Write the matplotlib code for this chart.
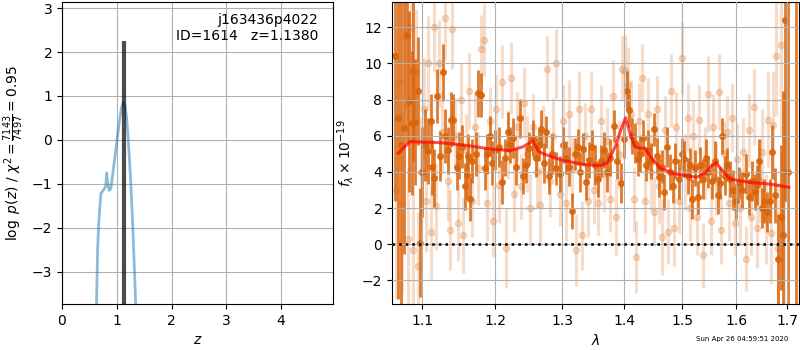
import numpy as np
import matplotlib
matplotlib.use('Agg')
from matplotlib import pyplot as plt
from matplotlib.ticker import NullLocator

# redshift probability
pz_z = [0.63, 0.65, 0.67, 0.71, 0.77, 0.80, 0.815, 0.83, 0.86, 0.89, 0.93, 1.00, 1.05, 1.09, 1.12, 1.15, 1.18, 1.21, 1.25, 1.29, 1.32, 1.345]
pz_logp = [-3.74, -2.5, -1.9, -1.22, -1.12, -1.05, -0.75, -0.95, -1.15, -1.12, -0.75, -0.05, 0.45, 0.75, 0.86, 0.78, 0.5, 0.0, -0.85, -1.9, -2.9, -3.74]
z_best = 1.138
p_peak = 2.25

# model spectrum
mod_wave = [1.069, 1.084, 1.124, 1.156, 1.193, 1.222, 1.241, 1.255, 1.264, 1.282, 1.302, 1.333, 1.361, 1.372,
            1.385, 1.394, 1.402, 1.410, 1.418, 1.427, 1.435, 1.444, 1.461, 1.485, 1.515, 1.527, 1.542, 1.554,
            1.562, 1.573, 1.589, 1.627, 1.667, 1.704]
mod_flux = [5.03, 5.68, 5.62, 5.49, 5.27, 5.18, 5.4, 5.71, 5.12, 4.86, 4.63, 4.42, 4.35, 4.51,
            5.4, 6.3, 7.0, 6.1, 5.4, 5.3, 5.33, 4.86, 4.22, 3.91, 3.76, 3.71, 3.95, 4.35,
            4.51, 4.11, 3.61, 3.42, 3.33, 3.15]

# good pixels
w1 = [1.065, 1.069, 1.073, 1.076, 1.080, 1.083, 1.086, 1.088, 1.091, 1.094, 1.097, 1.100, 1.104, 1.108,
      1.111, 1.113, 1.116, 1.119, 1.123, 1.127, 1.130, 1.134, 1.138, 1.141, 1.146, 1.149, 1.153, 1.157,
      1.160, 1.162, 1.164, 1.168, 1.173, 1.176, 1.180, 1.185, 1.188, 1.192, 1.196, 1.200, 1.206, 1.210,
      1.214, 1.218, 1.222, 1.226, 1.230, 1.236, 1.240, 1.245, 1.250, 1.255, 1.260, 1.264, 1.268, 1.272,
      1.275, 1.279, 1.284, 1.290, 1.296, 1.302, 1.306, 1.310, 1.315, 1.320, 1.324, 1.328, 1.332, 1.337,
      1.343, 1.347, 1.352, 1.357, 1.362, 1.367, 1.372, 1.377, 1.383, 1.388, 1.394, 1.399, 1.404, 1.408,
      1.413, 1.418, 1.423, 1.427, 1.431, 1.436, 1.440, 1.445, 1.450, 1.455, 1.460, 1.464, 1.468, 1.473,
      1.478, 1.483, 1.488, 1.494, 1.499, 1.504, 1.510, 1.514, 1.518, 1.523, 1.528, 1.533, 1.538, 1.543,
      1.548, 1.555, 1.560, 1.565, 1.570, 1.573, 1.578, 1.583, 1.588, 1.594, 1.600, 1.606, 1.612, 1.618,
      1.624, 1.630, 1.636, 1.640, 1.645, 1.650, 1.655, 1.660, 1.665, 1.670, 1.675, 1.682, 1.687, 1.692,
      1.696, 1.702, 1.718]
f1 = [10.4, 7.0, 5.5, 6.45, 11.6, 7.9, 6.7, 9.6, 6.76, 8.48, 0.1, 4.0, 5.5, 5.16,
      6.8, 4.25, 3.65, 8.2, 4.88, 9.5, 6.0, 5.2, 6.9, 6.9, 4.28, 4.9, 5.4, 3.2,
      3.83, 4.9, 2.5, 4.6, 4.99, 8.35, 8.25, 4.2, 5.0, 6.0, 4.5, 5.2, 5.4, 3.45,
      4.8, 6.2, 5.5, 5.9, 4.3, 6.96, 3.8, 4.4, 5.3, 5.88, 4.8, 5.5, 6.4, 4.5,
      6.2, 3.8, 5.0, 4.2, 3.9, 5.5, 4.8, 4.3, 1.84, 5.0, 5.4, 4.0, 5.27, 3.45,
      4.65, 5.4, 4.4, 3.6, 4.6, 5.2, 4.0, 4.8, 6.55, 4.6, 3.4, 5.8, 8.5, 7.4,
      6.0, 5.6, 4.7, 5.0, 5.9, 4.4, 5.2, 4.6, 6.36, 4.9, 3.7, 4.3, 2.9, 5.4,
      4.0, 3.2, 4.6, 3.6, 5.0, 4.7, 3.8, 4.4, 2.5, 4.2, 2.6, 4.4, 3.6, 4.8,
      4.0, 3.5, 4.6, 2.7, 3.4, 6.0, 3.8, 4.4, 3.6, 3.0, 2.4, 3.4, 3.0, 3.9,
      2.6, 3.5, 2.9, 3.3, 4.6, 2.0, 2.4, 1.8, 2.4, 5.1, 2.7, -0.8, 1.5, 0.5,
      12.4, 4.0, -6.0]
e1 = [8.0, 10.0, 9.0, 7.0, 6.0, 5.0, 4.0, 5.0, 3.5, 3.0, 3.0, 2.5, 2.0, 1.8,
      1.5, 1.5, 1.6, 1.5, 1.4, 1.6, 1.5, 1.3, 1.5, 1.4, 1.3, 1.3, 1.2, 1.3,
      1.3, 1.2, 1.2, 1.2, 1.2, 1.3, 1.2, 1.2, 1.1, 1.1, 1.2, 1.1, 1.1, 1.2,
      1.0, 1.1, 1.0, 1.1, 1.0, 1.1, 1.0, 1.0, 0.9, 1.0, 1.1, 0.9, 1.0, 1.1,
      0.9, 1.0, 1.1, 0.9, 1.0, 1.0, 0.9, 1.1, 1.0, 0.9, 1.0, 1.1, 0.9, 1.0,
      1.0, 0.9, 1.1, 1.0, 0.9, 1.0, 1.1, 1.0, 0.9, 1.0, 1.1, 1.0, 1.1, 0.9,
      1.0, 1.1, 0.9, 1.0, 1.0, 0.9, 1.1, 1.0, 0.9, 1.0, 1.1, 0.9, 1.0, 1.1,
      1.0, 0.9, 1.0, 1.1, 0.9, 1.0, 1.0, 0.9, 1.1, 1.0, 0.9, 1.0, 1.1, 1.0,
      0.9, 1.0, 1.1, 1.0, 0.9, 1.0, 1.1, 0.9, 1.0, 1.1, 1.0, 0.9, 1.0, 1.1,
      1.0, 1.1, 1.0, 1.1, 1.2, 1.1, 1.2, 1.1, 1.2, 1.5, 1.5, 2.5, 4.0, 8.0,
      10.0, 15.0, 25.0]

# second beam, lower weight
w2 = [1.066, 1.070, 1.074, 1.077, 1.081, 1.085, 1.088, 1.092, 1.095, 1.098, 1.102, 1.105, 1.108, 1.112,
      1.115, 1.118, 1.122, 1.126, 1.130, 1.134, 1.137, 1.140, 1.144, 1.148, 1.152, 1.155, 1.159, 1.163,
      1.167, 1.171, 1.175, 1.180, 1.184, 1.188, 1.193, 1.197, 1.201, 1.205, 1.210, 1.215, 1.219, 1.223,
      1.227, 1.232, 1.237, 1.242, 1.246, 1.251, 1.256, 1.261, 1.266, 1.271, 1.276, 1.281, 1.286, 1.291,
      1.296, 1.301, 1.306, 1.311, 1.316, 1.321, 1.326, 1.331, 1.336, 1.341, 1.346, 1.351, 1.356, 1.361,
      1.366, 1.371, 1.376, 1.381, 1.386, 1.391, 1.396, 1.401, 1.406, 1.411, 1.416, 1.420, 1.425, 1.430,
      1.435, 1.440, 1.445, 1.450, 1.455, 1.460, 1.465, 1.470, 1.475, 1.480, 1.485, 1.490, 1.495, 1.500,
      1.505, 1.510, 1.515, 1.520, 1.526, 1.531, 1.537, 1.542, 1.547, 1.552, 1.557, 1.562, 1.567, 1.572,
      1.577, 1.582, 1.587, 1.592, 1.597, 1.602, 1.608, 1.613, 1.618, 1.624, 1.629, 1.635, 1.640, 1.646,
      1.651, 1.657, 1.662, 1.667, 1.672, 1.677, 1.682, 1.688, 1.694]
f2 = [3.0, 9.0, 2.3, 11.5, 0.3, 12.0, -0.3, 9.5, -1.2, 4.0, 7.5, 2.4, 10.0, 0.7,
      12.0, 2.1, 10.0, 6.2, 12.5, 3.5, 0.8, 11.9, 6.0, 1.2, 8.0, 0.5, 5.2, 8.5,
      2.4, 6.5, 4.2, 10.8, 11.3, 2.3, 6.8, 1.3, 7.5, 3.3, 9.0, -0.2, 5.5, 9.2,
      2.8, 6.5, 3.2, 7.8, 5.0, 2.0, 6.5, 4.0, 2.2, 5.8, 9.7, 3.5, 6.0, 10.0,
      2.8, 6.8, 2.3, 7.2, 4.2, -0.3, 7.5, 0.5, 6.0, 2.4, 7.5, 3.0, 2.3, 6.8,
      3.9, 5.7, 2.5, 8.2, 1.5, 5.0, 9.7, 9.6, 8.8, 7.2, 2.5, -0.7, 6.8, 9.2,
      2.4, 7.2, 4.0, 1.8, 7.5, 3.2, 0.4, 6.3, 0.7, 8.5, 0.9, 6.5, 2.4, 10.3,
      4.0, 7.0, 2.0, 6.0, 1.5, 6.9, -0.6, 4.5, 8.3, 1.3, 6.5, 3.6, 8.4, 0.8,
      5.0, 6.2, 2.3, 7.0, 1.2, 4.7, 2.0, 5.1, -0.8, 6.3, 1.5, 7.6, 0.9, 3.5,
      5.1, 1.4, 6.9, 0.6, 6.6, 10.4, -0.2, 11.0, 2.5]
e2 = [6.0, 5.0, 5.0, 4.0, 4.0, 4.0, 3.5, 3.5, 3.0, 3.0, 2.8, 2.8, 2.6, 2.6,
      2.5, 2.4, 2.4, 2.3, 2.3, 2.2, 2.2, 2.2, 2.1, 2.1, 2.0, 2.1, 2.0, 2.1,
      2.0, 1.9, 2.0, 1.9, 2.0, 2.1, 1.9, 2.0, 1.9, 2.1, 2.0, 2.2, 1.9, 2.0,
      2.1, 1.9, 1.8, 2.0, 2.1, 1.9, 1.8, 2.0, 2.1, 1.9, 1.8, 2.0, 2.1, 1.9,
      1.8, 2.0, 2.1, 1.9, 1.8, 2.0, 2.1, 1.9, 1.8, 2.0, 2.1, 1.9, 1.8, 2.0,
      2.1, 1.9, 1.8, 2.0, 2.1, 1.9, 1.8, 2.0, 2.1, 1.9, 1.8, 2.0, 2.1, 1.9,
      1.8, 2.0, 2.1, 1.9, 1.8, 2.0, 2.1, 1.9, 1.8, 2.0, 2.1, 1.9, 1.8, 2.0,
      2.1, 1.9, 1.8, 2.0, 2.1, 1.9, 1.8, 2.0, 2.1, 1.9, 1.8, 2.0, 2.1, 1.9,
      1.8, 2.0, 2.1, 1.9, 1.8, 2.0, 2.1, 1.9, 1.8, 2.0, 2.1, 2.1, 2.2, 2.3,
      2.4, 2.5, 2.6, 2.8, 3.0, 3.3, 3.6, 5.0, 6.0]

lam_ticks = [1.1, 1.2, 1.3, 1.4, 1.5, 1.6, 1.7]
spec_color = '#d9640a'

fig = plt.figure(figsize=(8, 3.5), dpi=100)

# p(z) panel
ax = fig.add_axes([0.0775, 0.1314, 0.339, 0.863])
ax.plot(pz_z, pz_logp, color='C0', alpha=0.5, lw=2)
ax.vlines(z_best, -3.74, p_peak, color='k', alpha=0.7, lw=3)
ax.set_xlim(0, 4.95)
ax.set_ylim(-3.74, 3.14)
ax.grid()
ax.set_xlabel('$z$')
ax.set_ylabel(r'$\log\ p(z)$' + ' / ' + r'$\chi^2=\frac{7143}{7497}=0.95$')
ax.text(0.945, 0.965, 'j163436p4022\nID=1614   z=1.1380', ha='right', va='top',
        transform=ax.transAxes, fontsize=10)

# spectrum panel
ax = fig.add_axes([0.49, 0.1314, 0.509, 0.863])
ax.errorbar(w2, f2, yerr=e2, color=spec_color, alpha=0.22, marker='o', ms=4.5,
            linestyle='None', elinewidth=2.2, zorder=1)
ax.errorbar(w1, f1, yerr=e1, color=spec_color, alpha=0.85, marker='o', ms=4,
            linestyle='None', elinewidth=2.0, zorder=2)
ax.plot(mod_wave, mod_flux, color='r', alpha=0.7, lw=2.2, zorder=3)
ax.axhline(0, color='k', linestyle=':', lw=1.8, zorder=4)
ax.set_xscale('log')
ax.set_xticks(lam_ticks)
ax.set_xticklabels([str(t) for t in lam_ticks])
ax.xaxis.set_minor_locator(NullLocator())
ax.set_xlim(1.061, 1.725)
ax.set_ylim(-3.3, 13.4)
ax.set_axisbelow(False)
ax.grid(zorder=5)
ax.set_xlabel(r'$\lambda$')
ax.set_ylabel(r'$f_\lambda\times10^{-19}$')

fig.text(0.985, 0.031, 'Sun Apr 26 04:59:51 2020', ha='right', va='center', fontsize=5)

plt.savefig('out.png', dpi=100)
